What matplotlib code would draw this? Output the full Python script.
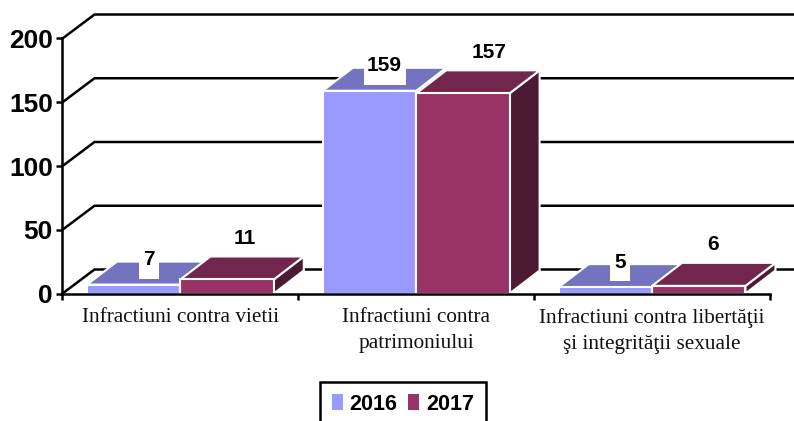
import matplotlib
matplotlib.use('Agg')
from matplotlib import pyplot as plt
from matplotlib.patches import Polygon, Patch, Rectangle

categories = ['Infractiuni contra vietii',
              'Infractiuni contra\npatrimoniului',
              'Infractiuni contra libertăţii\nşi integrităţii sexuale']
years = ['2016', '2017']
values_2016 = [7, 159, 5]
values_2017 = [11, 157, 6]
y_ticks = [0, 50, 100, 150, 200]

W, H = 794, 421
fig = plt.figure(figsize=(W / 100, H / 100), dpi=100)
ax = fig.add_axes([62.5 / W, (H - 293.5) / H, 707.5 / W, 255 / H])
ax.set_xlim(0, 3)
ax.set_ylim(0, 200)

# pixels to data units
px_x = 3 / 707.5
px_y = 200 / 255

# back wall lines
wall_dx, wall_dy = 32 * px_x, 24 * px_y
for v in y_ticks:
    ax.plot([0, wall_dx, 794 * px_x], [v, v + wall_dy, v + wall_dy], c='black', lw=1.8,
            clip_on=False, zorder=1, solid_joinstyle='miter')

# 3d bars
bar_w = 0.396
start = 0.104
depth_x, depth_y = 30 * px_x, 23 * px_y
series = [
    (values_2016, 0, '#9999FF', '#7373BF', '#4D4D80'),
    (values_2017, 1, '#993366', '#73264D', '#4D1A33'),
]
for vals, k, front, top, side in series:
    for i, v in enumerate(vals):
        x0 = i + start + k * bar_w
        x1 = x0 + bar_w
        ax.add_patch(Polygon([(x1, 0), (x1 + depth_x, depth_y), (x1 + depth_x, v + depth_y), (x1, v)],
                             fc=side, ec='white', lw=1.5, zorder=2 + k, clip_on=False))
        ax.add_patch(Polygon([(x0, v), (x0 + depth_x, v + depth_y), (x1 + depth_x, v + depth_y), (x1, v)],
                             fc=top, ec='white', lw=1.5, zorder=2 + k, clip_on=False))
        ax.add_patch(Rectangle((x0, 0), bar_w, v, fc=front, ec='white', lw=1.5, zorder=2 + k, clip_on=False))

# data labels, the 2016 ones sit on a white box
for i, v in enumerate(values_2016):
    x = i + start + bar_w / 2 + 15 * px_x
    y = v + 26 * px_y
    w = (9 + 11 * len(str(v))) * px_x
    ax.add_patch(Rectangle((x - w / 2, y - 20 * px_y), w, 40 * px_y, fc='white', ec='none', zorder=5, clip_on=False))
    ax.text(x, y - 1 * px_y, str(v), ha='center', va='center', fontsize=15, fontweight='bold',
            family='Liberation Sans', zorder=6)
shift_2017 = [18, 26, 14]
for i, v in enumerate(values_2017):
    x = i + start + bar_w * 1.5 + shift_2017[i] * px_x
    y = v + 41 * px_y
    ax.text(x, y, str(v), ha='center', va='center', fontsize=15, fontweight='bold',
            family='Liberation Sans', zorder=6)

# axes
for name in ['top', 'right']:
    ax.spines[name].set_visible(False)
for name in ['left', 'bottom']:
    ax.spines[name].set_linewidth(1.8)
    ax.spines[name].set_zorder(7)
ax.set_yticks(y_ticks)
ax.set_yticklabels([str(v) for v in y_ticks], fontsize=19, fontweight='bold', family='Liberation Sans')
ax.set_xticks([0, 1, 2, 3])
ax.set_xticklabels([])
ax.tick_params(axis='both', length=4, width=1.8, pad=3)
for i, name in enumerate(categories):
    ax.annotate(name, (i + 0.5, 0), xytext=(0, -10.5), textcoords='offset points', ha='center', va='top',
                fontsize=15.3, family='Liberation Serif', color='#111111', linespacing=1.5,
                annotation_clip=False)

handles = [Patch(fc='#9999FF', label=years[0]), Patch(fc='#993366', label=years[1])]
leg = fig.legend(handles=handles, loc='center', bbox_to_anchor=(403 / W, (H - 404) / H), ncol=2, frameon=True,
                 fancybox=False, edgecolor='black', framealpha=1, handlelength=0.5, handleheight=0.7,
                 handletextpad=0.33, columnspacing=0.5, borderpad=0.55, borderaxespad=0,
                 prop={'family': 'Liberation Sans', 'weight': 'bold', 'size': 15.5})
leg.get_frame().set_linewidth(1.8)

plt.savefig('out.png', dpi=100)
